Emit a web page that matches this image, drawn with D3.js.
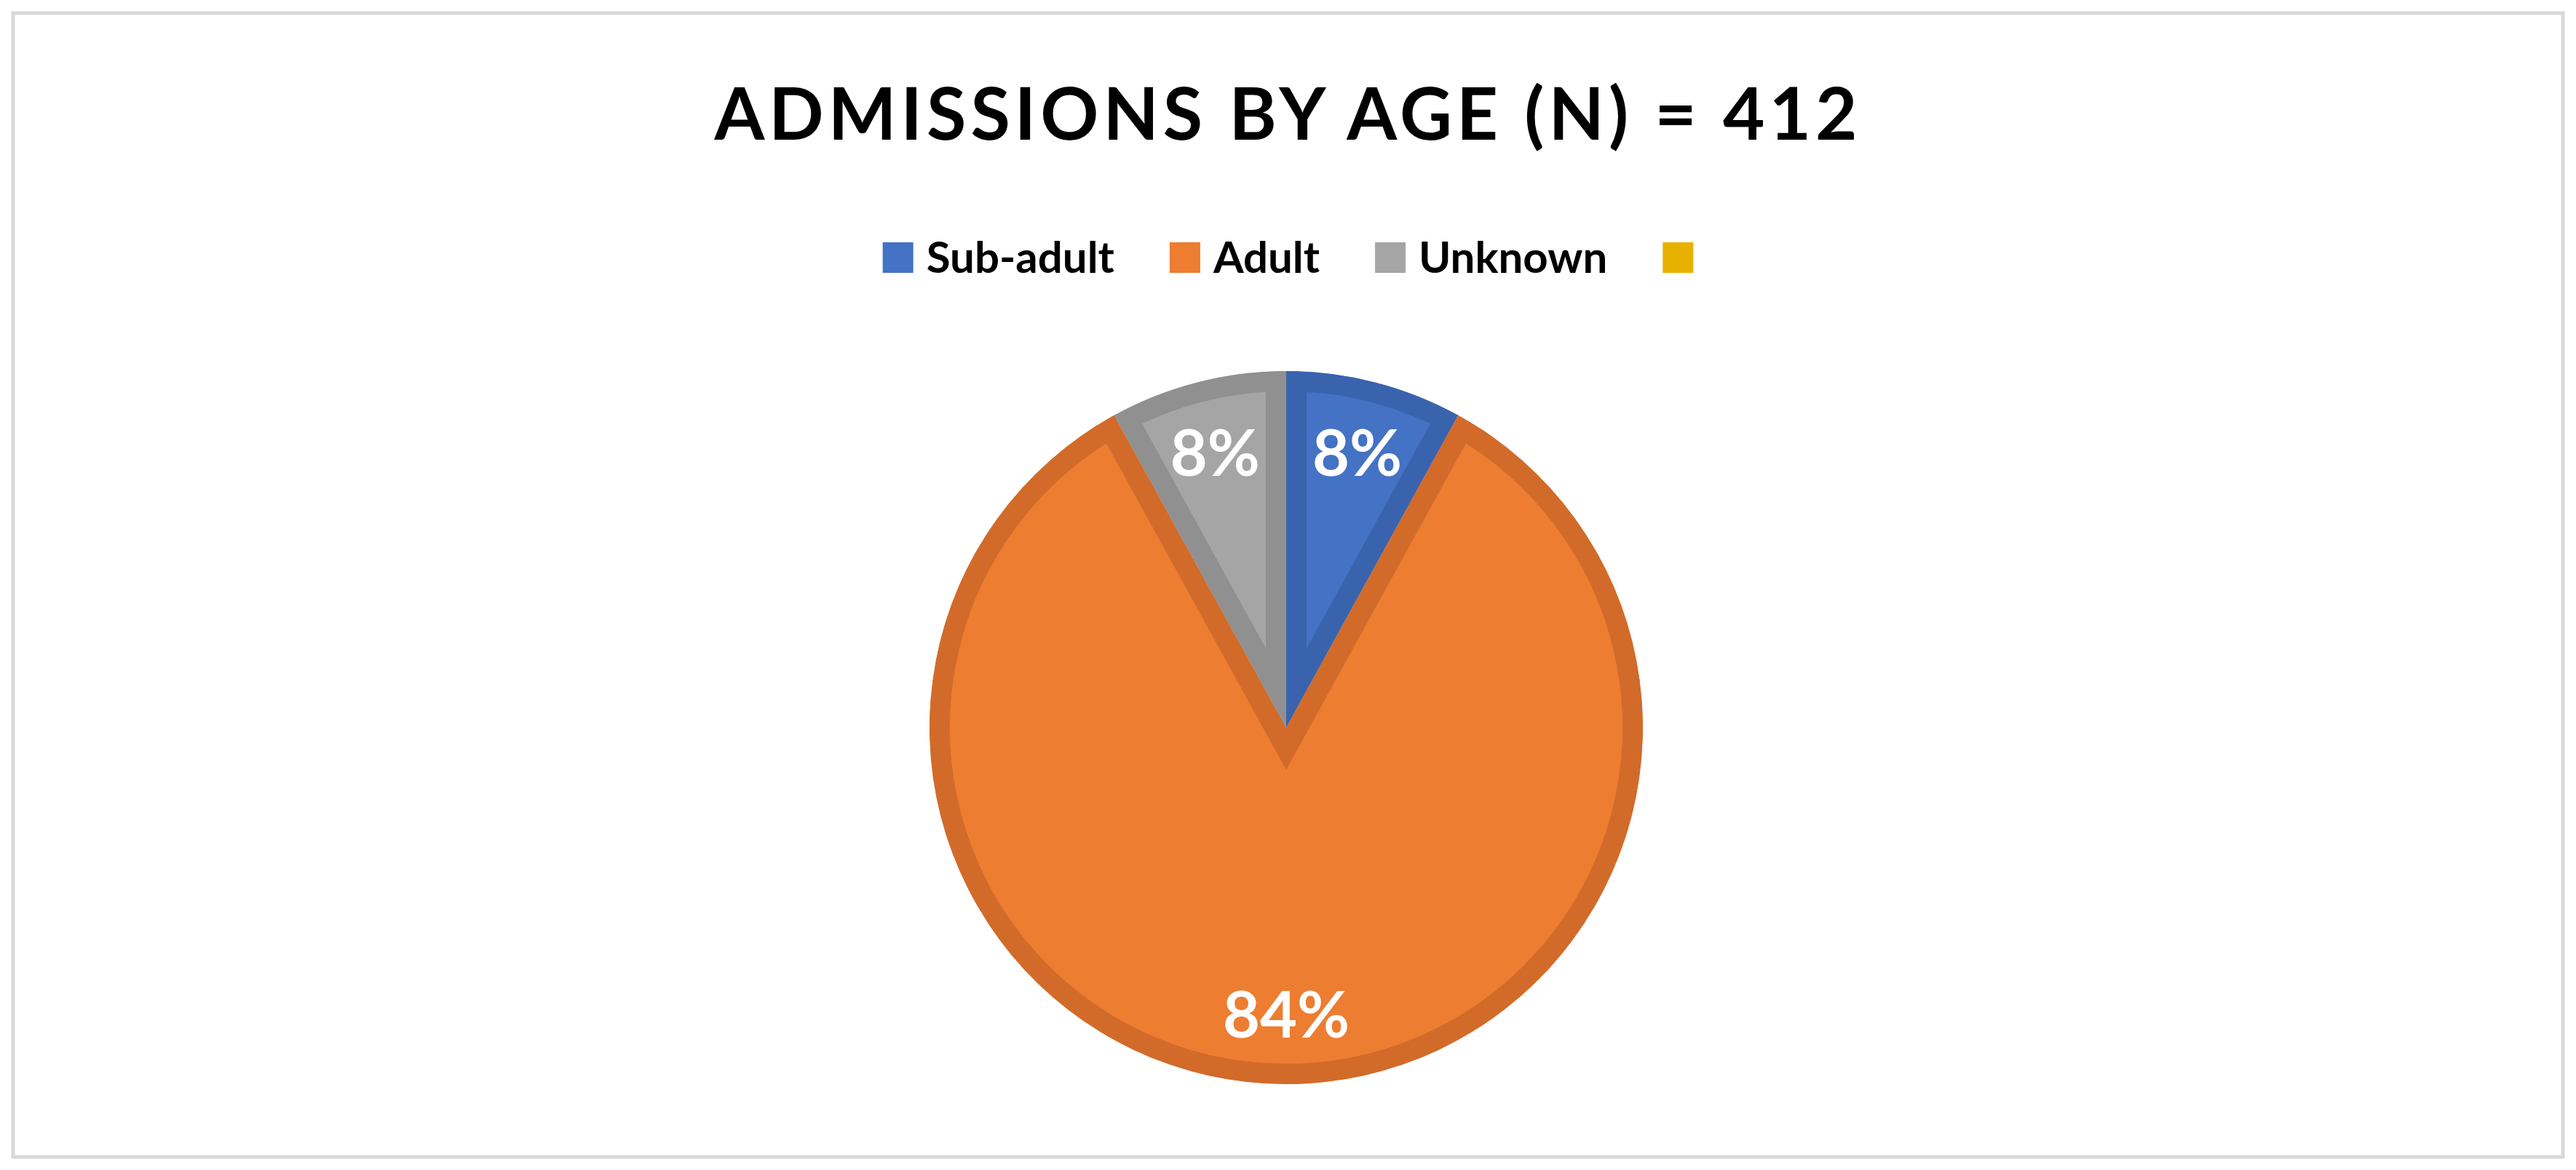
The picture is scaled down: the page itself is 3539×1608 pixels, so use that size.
<!DOCTYPE html>
<html>
<head>
<meta charset="utf-8">
<script src="https://cdn.jsdelivr.net/npm/d3@7"></script>
<style>
  body { margin: 0; background: #fff; }
  text { font-family: Lato, "Open Sans", sans-serif; font-weight: bold; }
</style>
</head>
<body>
<svg></svg>
<script>
const W = 3539, H = 1608;
const title = "ADMISSIONS BY AGE (N) = 412";
const categories = ["Sub-adult", "Adult", "Unknown", ""];
const counts = [33, 346, 33, 0];
const labels = ["8%", "84%", "8%", ""];
const fills = ["#4472C4", "#ED7D31", "#A5A5A5", "#E8B100"];
const strokes = ["#3A63AE", "#D26B2A", "#909090", "#E8B100"];

const svg = d3.select('svg').attr('width', W).attr('height', H);

svg.append('rect')
  .attr('x', 18).attr('y', 18)
  .attr('width', W - 36).attr('height', H - 36)
  .attr('fill', '#fff').attr('stroke', '#d9d9d9').attr('stroke-width', 5);

// title, fitted to the reference width
const t = svg.append('text')
  .attr('x', W / 2).attr('y', 192)
  .attr('text-anchor', 'middle')
  .attr('font-size', 100)
  .attr('letter-spacing', 6)
  .attr('fill', '#000')
  .text(title);
const tw = t.node().getComputedTextLength();
t.attr('font-size', 100 * 1575 / tw);

// legend
const legend = svg.append('g');
let x = 0;
categories.forEach((c, i) => {
  legend.append('rect')
    .attr('x', x).attr('y', -21)
    .attr('width', 42).attr('height', 42)
    .attr('fill', fills[i]);
  x += 60;
  if (c) {
    const lt = legend.append('text')
      .attr('x', x).attr('y', 21)
      .attr('font-size', 60)
      .attr('fill', '#000')
      .text(c);
    x += lt.node().getComputedTextLength() + 76;
  }
});
x -= 60 - 42;
legend.attr('transform', `translate(${W / 2 - x / 2},354)`);

// pie
const cx = 1767, cy = 1000, r = 490, sw = 28;
const pie = d3.pie().sort(null).value(d => d)(counts);
const arc = d3.arc().innerRadius(0).outerRadius(r);
const g = svg.append('g').attr('transform', `translate(${cx},${cy})`);

const defs = svg.append('defs');
pie.forEach((p, i) => {
  if (!p.value) return;
  defs.append('clipPath').attr('id', 'clip' + i)
    .append('path').attr('d', arc(p));
  g.append('path')
    .attr('d', arc(p))
    .attr('fill', fills[i])
    .attr('stroke', strokes[i])
    .attr('stroke-width', sw * 2)
    .attr('stroke-linejoin', 'miter')
    .attr('clip-path', `url(#clip${i})`);
});

const labelArc = d3.arc().innerRadius(r * 0.8).outerRadius(r * 0.8);
pie.forEach((p, i) => {
  if (!p.value) return;
  const [lx, ly] = labelArc.centroid(p);
  g.append('text')
    .attr('x', lx).attr('y', ly)
    .attr('text-anchor', 'middle')
    .attr('dominant-baseline', 'central')
    .attr('font-size', 88)
    .attr('fill', '#fff')
    .text(labels[i]);
});
</script>
</body>
</html>
